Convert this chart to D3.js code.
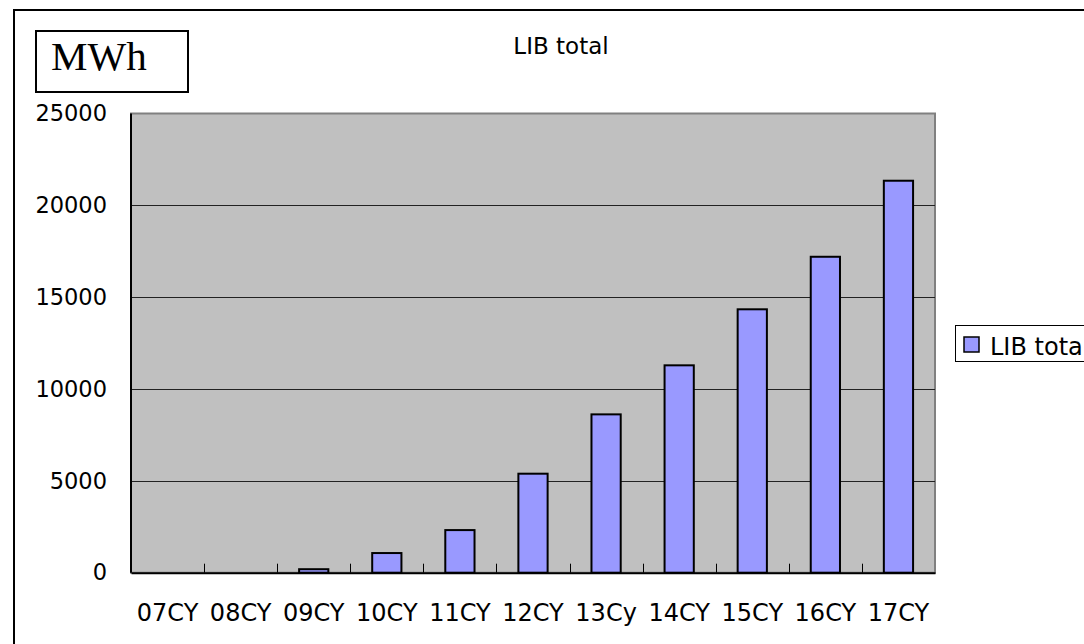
<!DOCTYPE html>
<html>
<head>
<meta charset="utf-8">
<script src="https://cdn.jsdelivr.net/npm/d3@7"></script>
<style>
  html, body { margin: 0; padding: 0; background: #fff; }
  svg { display: block; }
</style>
</head>
<body>
<svg id="chart" width="1084" height="644"></svg>
<script>
const categories = ["07CY","08CY","09CY","10CY","11CY","12CY","13Cy","14CY","15CY","16CY","17CY"];
const values = [0, 0, 190, 1070, 2320, 5390, 8620, 11290, 14340, 17200, 21340];
const yTicks = [0, 5000, 10000, 15000, 20000, 25000];
const seriesName = "LIB total";
const unitLabel = "MWh";

const svg = d3.select("#chart");
const font = "'DejaVu Sans', sans-serif";

const plot = { left: 131, right: 935, top: 113.5, bottom: 572.7 };

const x = d3.scaleBand().domain(categories).range([plot.left, plot.right]).padding(0);
const y = d3.scaleLinear().domain([0, 25000]).range([plot.bottom, plot.top]);

// outer chart border
svg.append("rect").attr("x", 14).attr("y", 10).attr("width", 1100).attr("height", 660)
  .attr("fill", "#fff").attr("stroke", "#000").attr("stroke-width", 2);

// plot background
svg.append("rect")
  .attr("x", plot.left).attr("y", plot.top)
  .attr("width", plot.right - plot.left).attr("height", plot.bottom - plot.top)
  .attr("fill", "#c0c0c0").attr("stroke", "#808080").attr("stroke-width", 2);

// gridlines
svg.append("g").selectAll("line").data(yTicks.filter(d => d > 0 && d < 25000)).join("line")
  .attr("x1", plot.left).attr("x2", plot.right)
  .attr("y1", d => Math.round(y(d)) + 0.5).attr("y2", d => Math.round(y(d)) + 0.5)
  .attr("stroke", "#222").attr("stroke-width", 1);

// bars
const bw = x.bandwidth() * 0.40;
svg.append("g").selectAll("rect").data(categories.map((c, i) => ({c, v: values[i]}))).join("rect")
  .filter(d => d.v > 0)
  .attr("x", d => x(d.c) + (x.bandwidth() - bw) / 2)
  .attr("y", d => y(d.v))
  .attr("width", bw)
  .attr("height", d => y(0) - y(d.v))
  .attr("fill", "#9999ff").attr("stroke", "#000").attr("stroke-width", 2);

// left axis line
svg.append("line").attr("x1", plot.left).attr("x2", plot.left)
  .attr("y1", plot.top).attr("y2", plot.bottom).attr("stroke", "#000").attr("stroke-width", 2);

// x axis with inward ticks at category boundaries
const xAxis = d3.axisBottom(x).tickSize(0).tickPadding(31);
const gx = svg.append("g").attr("transform", `translate(0,${plot.bottom})`).call(xAxis);
gx.select(".domain").attr("stroke", "#000").attr("stroke-width", 2);
gx.selectAll("text").attr("font-family", font).attr("font-size", 24).attr("fill", "#000");
svg.append("g").selectAll("line").data(categories.slice(1)).join("line")
  .attr("x1", d => Math.round(x(d)) + 0.5).attr("x2", d => Math.round(x(d)) + 0.5)
  .attr("y1", plot.bottom).attr("y2", plot.bottom - 9)
  .attr("stroke", "#000").attr("stroke-width", 1);

// y axis labels
const yAxis = d3.axisLeft(y).tickValues(yTicks).tickSize(0).tickPadding(24).tickFormat(d3.format("d"));
const gy = svg.append("g").attr("transform", `translate(${plot.left},0)`).call(yAxis);
gy.select(".domain").remove();
gy.selectAll("text").attr("font-family", font).attr("font-size", 22.5).attr("fill", "#000");

// title
svg.append("text").attr("x", 561).attr("y", 54).attr("text-anchor", "middle")
  .attr("font-family", font).attr("font-size", 23).text(seriesName);

// unit box
svg.append("rect").attr("x", 36).attr("y", 31).attr("width", 152).attr("height", 61)
  .attr("fill", "#fff").attr("stroke", "#000").attr("stroke-width", 2);
svg.append("text").attr("x", 51).attr("y", 70)
  .attr("font-family", "'Liberation Serif', serif").attr("font-size", 41).text(unitLabel);

// legend
svg.append("rect").attr("x", 955.5).attr("y", 325.5).attr("width", 160).attr("height", 36)
  .attr("fill", "#fff").attr("stroke", "#000").attr("stroke-width", 1);
svg.append("rect").attr("x", 964).attr("y", 337).attr("width", 15).attr("height", 15)
  .attr("fill", "#9999ff").attr("stroke", "#000").attr("stroke-width", 1.5);
svg.append("text").attr("x", 990).attr("y", 355)
  .attr("font-family", font).attr("font-size", 24).text(seriesName);
</script>
</body>
</html>
